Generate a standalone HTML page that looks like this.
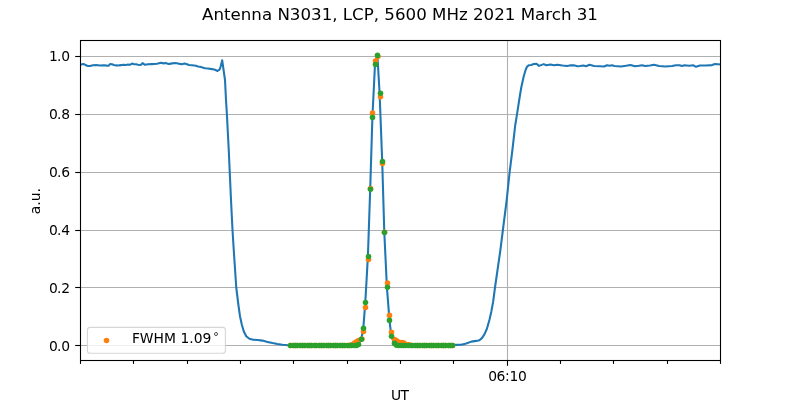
<!DOCTYPE html>
<html><head><meta charset="utf-8"><title>Antenna N3031</title>
<style>html,body{margin:0;padding:0;background:#fff;overflow:hidden}</style></head>
<body>
<svg width="800" height="400" viewBox="0 0 800 400" style="display:block;font-family:'DejaVu Sans','Liberation Sans',sans-serif">
<rect width="800" height="400" fill="#fff"/>
<g stroke="#b0b0b0" stroke-width="1.1" fill="none">
<line x1="80.5" x2="720.5" y1="345.5" y2="345.5"/>
<line x1="80.5" x2="720.5" y1="287.5" y2="287.5"/>
<line x1="80.5" x2="720.5" y1="230.5" y2="230.5"/>
<line x1="80.5" x2="720.5" y1="172.5" y2="172.5"/>
<line x1="80.5" x2="720.5" y1="114.5" y2="114.5"/>
<line x1="80.5" x2="720.5" y1="56.5" y2="56.5"/>
<line x1="507.5" x2="507.5" y1="40.5" y2="360.5"/>
</g>
<g stroke="#000" stroke-width="1.1" fill="none">
<line x1="75.2" x2="80.5" y1="345.5" y2="345.5"/>
<line x1="75.2" x2="80.5" y1="287.5" y2="287.5"/>
<line x1="75.2" x2="80.5" y1="230.5" y2="230.5"/>
<line x1="75.2" x2="80.5" y1="172.5" y2="172.5"/>
<line x1="75.2" x2="80.5" y1="114.5" y2="114.5"/>
<line x1="75.2" x2="80.5" y1="56.5" y2="56.5"/>
<line x1="80.5" x2="80.5" y1="360.5" y2="363.9"/>
<line x1="133.5" x2="133.5" y1="360.5" y2="363.9"/>
<line x1="187.5" x2="187.5" y1="360.5" y2="363.9"/>
<line x1="240.5" x2="240.5" y1="360.5" y2="363.9"/>
<line x1="293.5" x2="293.5" y1="360.5" y2="363.9"/>
<line x1="347.5" x2="347.5" y1="360.5" y2="363.9"/>
<line x1="400.5" x2="400.5" y1="360.5" y2="363.9"/>
<line x1="453.5" x2="453.5" y1="360.5" y2="363.9"/>
<line x1="507.5" x2="507.5" y1="360.5" y2="365.8"/>
<line x1="560.5" x2="560.5" y1="360.5" y2="363.9"/>
<line x1="613.5" x2="613.5" y1="360.5" y2="363.9"/>
<line x1="667.5" x2="667.5" y1="360.5" y2="363.9"/>
<line x1="720.5" x2="720.5" y1="360.5" y2="363.9"/>
</g>
<clipPath id="c"><rect x="80.5" y="40.5" width="640" height="320"/></clipPath>
<g clip-path="url(#c)">
<path d="M80.00,65.00 L82.00,64.20 L83.50,64.00 L85.00,64.60 L86.50,65.60 L88.00,66.00 L90.00,66.00 L93.00,65.20 L96.00,65.00 L100.00,65.50 L104.00,65.30 L107.00,65.60 L108.50,65.70 L110.00,64.10 L112.00,64.30 L114.00,65.00 L116.00,65.40 L118.00,65.50 L121.00,65.10 L124.00,64.80 L126.00,65.00 L128.00,64.60 L130.00,64.80 L132.00,63.60 L134.00,64.30 L136.00,64.20 L138.00,64.80 L140.00,65.00 L141.50,64.50 L142.50,63.00 L144.00,64.30 L145.00,64.80 L148.00,64.30 L152.00,64.10 L157.00,63.80 L159.00,63.30 L161.00,62.80 L162.50,63.00 L163.50,63.50 L165.50,62.90 L167.00,63.40 L168.50,64.00 L171.00,63.60 L174.50,63.00 L177.00,63.30 L180.00,63.90 L182.00,64.20 L184.50,63.50 L187.00,64.20 L189.00,65.00 L192.00,65.30 L196.00,65.80 L198.00,66.40 L200.00,66.80 L202.50,67.50 L205.00,68.20 L208.00,68.50 L212.00,69.10 L215.00,69.80 L217.50,71.00 L219.50,69.70 L220.50,67.00 L222.20,60.30 L223.75,71.25 L225.00,80.00 L226.00,100.00 L226.90,114.40 L228.75,150.00 L229.75,172.40 L231.00,200.00 L232.50,230.00 L233.75,250.00 L236.25,287.50 L237.80,300.00 L238.75,307.50 L240.00,316.25 L241.90,325.00 L243.75,331.25 L246.25,336.25 L249.40,338.75 L253.10,339.75 L257.50,340.00 L262.50,340.60 L267.50,341.90 L272.50,343.10 L277.50,344.00 L282.50,344.75 L288.10,345.20 L290.36,345.40 L292.71,345.40 L295.05,345.40 L297.40,345.40 L299.75,345.40 L302.09,345.40 L304.44,345.40 L306.78,345.40 L309.13,345.40 L311.48,345.40 L313.82,345.40 L316.17,345.40 L318.52,345.40 L320.86,345.40 L323.21,345.40 L325.55,345.40 L327.90,345.40 L330.25,345.40 L332.59,345.40 L334.94,345.40 L337.29,345.40 L339.63,345.40 L341.98,345.40 L344.32,345.40 L346.67,345.40 L349.02,345.40 L351.36,345.40 L353.71,345.40 L356.06,345.40 L358.40,344.40 L361.30,339.20 L363.30,328.20 L365.30,302.40 L367.90,256.40 L370.20,189.10 L372.40,117.30 L375.00,64.40 L377.40,55.30 L379.60,93.20 L382.20,161.40 L384.30,232.40 L386.90,287.10 L389.50,320.30 L391.35,336.20 L394.20,343.30 L396.30,345.10 L398.29,345.40 L400.64,345.40 L402.98,345.40 L405.33,345.40 L407.68,345.40 L410.02,345.40 L412.37,345.40 L414.71,345.40 L417.06,345.40 L419.41,345.40 L421.75,345.40 L424.10,345.40 L426.45,345.40 L428.79,345.40 L431.14,345.40 L433.48,345.40 L435.83,345.40 L438.18,345.40 L440.52,345.40 L442.87,345.40 L445.22,345.40 L447.56,345.40 L449.91,345.40 L452.25,345.40 L455.60,344.90 L461.25,344.75 L466.25,343.50 L471.25,341.60 L476.25,340.90 L479.40,340.25 L481.90,338.10 L484.40,334.40 L486.90,328.75 L489.40,320.00 L491.25,311.90 L493.10,302.00 L495.00,287.50 L500.40,250.00 L502.90,230.00 L506.70,200.00 L509.60,172.50 L512.40,150.00 L515.25,125.00 L517.00,114.40 L519.20,100.00 L521.25,87.50 L523.75,76.25 L525.60,70.00 L526.90,66.90 L528.75,65.25 L531.25,65.00 L533.75,64.00 L536.50,63.75 L539.00,65.90 L543.75,64.10 L546.25,65.25 L550.60,64.50 L553.75,65.25 L557.50,64.75 L562.50,65.50 L566.90,66.00 L570.00,65.40 L573.75,65.25 L577.50,66.25 L580.00,66.00 L583.50,65.50 L586.00,66.20 L589.50,64.80 L594.00,66.00 L600.00,66.20 L604.00,66.50 L607.00,65.20 L609.50,65.80 L612.00,65.30 L614.50,66.00 L621.00,66.50 L626.00,65.80 L630.50,65.00 L635.00,66.30 L639.00,65.80 L642.00,65.20 L645.00,66.00 L650.00,65.50 L654.00,64.80 L659.00,66.00 L665.50,66.50 L672.00,66.00 L676.00,65.20 L679.50,65.20 L682.00,66.00 L684.50,65.20 L689.00,65.70 L693.50,65.30 L696.00,66.80 L700.00,65.50 L706.00,65.50 L712.00,65.10 L715.00,64.00 L720.50,64.50" fill="none" stroke="#1f77b4" stroke-width="2.08" stroke-linejoin="round" stroke-linecap="square"/>
<g fill="#ff7f0e"><circle cx="290.5" cy="345.5" r="2.78"/>
<circle cx="293.5" cy="345.5" r="2.78"/>
<circle cx="295.5" cy="345.5" r="2.78"/>
<circle cx="297.5" cy="345.5" r="2.78"/>
<circle cx="300.5" cy="345.5" r="2.78"/>
<circle cx="302.5" cy="345.5" r="2.78"/>
<circle cx="304.5" cy="345.5" r="2.78"/>
<circle cx="307.5" cy="345.5" r="2.78"/>
<circle cx="309.5" cy="345.5" r="2.78"/>
<circle cx="311.5" cy="345.5" r="2.78"/>
<circle cx="314.5" cy="345.5" r="2.78"/>
<circle cx="316.5" cy="345.5" r="2.78"/>
<circle cx="319.5" cy="345.5" r="2.78"/>
<circle cx="321.5" cy="345.5" r="2.78"/>
<circle cx="323.5" cy="345.5" r="2.78"/>
<circle cx="326.5" cy="345.5" r="2.78"/>
<circle cx="328.5" cy="345.5" r="2.78"/>
<circle cx="330.5" cy="345.5" r="2.78"/>
<circle cx="333.5" cy="345.5" r="2.78"/>
<circle cx="335.5" cy="345.5" r="2.78"/>
<circle cx="337.5" cy="345.5" r="2.78"/>
<circle cx="340.5" cy="345.5" r="2.78"/>
<circle cx="342.5" cy="345.5" r="2.78"/>
<circle cx="344.5" cy="345.5" r="2.78"/>
<circle cx="347.5" cy="345.5" r="2.78"/>
<circle cx="349.5" cy="345.5" r="2.78"/>
<circle cx="351.5" cy="344.9" r="2.78"/>
<circle cx="354.5" cy="343.1" r="2.78"/>
<circle cx="356.5" cy="341.7" r="2.78"/>
<circle cx="358.5" cy="340.6" r="2.78"/>
<circle cx="361.9" cy="339.0" r="2.78"/>
<circle cx="363.5" cy="331.5" r="2.78"/>
<circle cx="365.5" cy="307.5" r="2.78"/>
<circle cx="368.5" cy="259.5" r="2.78"/>
<circle cx="370.5" cy="188.5" r="2.78"/>
<circle cx="372.5" cy="113.1" r="2.78"/>
<circle cx="375.5" cy="61" r="2.78"/>
<circle cx="377.9" cy="56.5" r="2.78"/>
<circle cx="380.5" cy="96.8" r="2.78"/>
<circle cx="382.5" cy="163.5" r="2.78"/>
<circle cx="384.5" cy="232.3" r="2.78"/>
<circle cx="387.5" cy="283" r="2.78"/>
<circle cx="389.5" cy="315.4" r="2.78"/>
<circle cx="391.5" cy="332.2" r="2.78"/>
<circle cx="394.5" cy="339.6" r="2.78"/>
<circle cx="396.5" cy="340.9" r="2.78"/>
<circle cx="398.5" cy="342.0" r="2.78"/>
<circle cx="401.5" cy="342.5" r="2.78"/>
<circle cx="403.5" cy="342.9" r="2.78"/>
<circle cx="405.5" cy="344.2" r="2.78"/>
<circle cx="408.5" cy="344.9" r="2.78"/>
<circle cx="410.5" cy="345.3" r="2.78"/>
<circle cx="412.5" cy="345.5" r="2.78"/>
<circle cx="415.5" cy="345.5" r="2.78"/>
<circle cx="417.5" cy="345.5" r="2.78"/>
<circle cx="419.5" cy="345.5" r="2.78"/>
<circle cx="422.5" cy="345.5" r="2.78"/>
<circle cx="424.5" cy="345.5" r="2.78"/>
<circle cx="426.5" cy="345.5" r="2.78"/>
<circle cx="429.5" cy="345.5" r="2.78"/>
<circle cx="431.5" cy="345.5" r="2.78"/>
<circle cx="433.5" cy="345.5" r="2.78"/>
<circle cx="436.5" cy="345.5" r="2.78"/>
<circle cx="438.5" cy="345.5" r="2.78"/>
<circle cx="441.5" cy="345.5" r="2.78"/>
<circle cx="443.5" cy="345.5" r="2.78"/>
<circle cx="445.5" cy="345.5" r="2.78"/>
<circle cx="448.5" cy="345.5" r="2.78"/>
<circle cx="450.5" cy="345.5" r="2.78"/>
<circle cx="452.5" cy="345.5" r="2.78"/></g>
<g fill="#2ca02c"><circle cx="290.5" cy="345.5" r="2.78"/>
<circle cx="293.5" cy="345.5" r="2.78"/>
<circle cx="295.5" cy="345.5" r="2.78"/>
<circle cx="297.5" cy="345.5" r="2.78"/>
<circle cx="300.5" cy="345.5" r="2.78"/>
<circle cx="302.5" cy="345.5" r="2.78"/>
<circle cx="304.5" cy="345.5" r="2.78"/>
<circle cx="307.5" cy="345.5" r="2.78"/>
<circle cx="309.5" cy="345.5" r="2.78"/>
<circle cx="311.5" cy="345.5" r="2.78"/>
<circle cx="314.5" cy="345.5" r="2.78"/>
<circle cx="316.5" cy="345.5" r="2.78"/>
<circle cx="319.5" cy="345.5" r="2.78"/>
<circle cx="321.5" cy="345.5" r="2.78"/>
<circle cx="323.5" cy="345.5" r="2.78"/>
<circle cx="326.5" cy="345.5" r="2.78"/>
<circle cx="328.5" cy="345.5" r="2.78"/>
<circle cx="330.5" cy="345.5" r="2.78"/>
<circle cx="333.5" cy="345.5" r="2.78"/>
<circle cx="335.5" cy="345.5" r="2.78"/>
<circle cx="337.5" cy="345.5" r="2.78"/>
<circle cx="340.5" cy="345.5" r="2.78"/>
<circle cx="342.5" cy="345.5" r="2.78"/>
<circle cx="344.5" cy="345.5" r="2.78"/>
<circle cx="347.5" cy="345.5" r="2.78"/>
<circle cx="349.5" cy="345.5" r="2.78"/>
<circle cx="351.5" cy="345.5" r="2.78"/>
<circle cx="354.5" cy="345.5" r="2.78"/>
<circle cx="356.5" cy="345.5" r="2.78"/>
<circle cx="358.5" cy="344.5" r="2.78"/>
<circle cx="361.5" cy="339.3" r="2.78"/>
<circle cx="363.5" cy="328.3" r="2.78"/>
<circle cx="365.5" cy="302.5" r="2.78"/>
<circle cx="368.5" cy="256.5" r="2.78"/>
<circle cx="370.5" cy="189.2" r="2.78"/>
<circle cx="372.5" cy="117.4" r="2.78"/>
<circle cx="375.5" cy="64.5" r="2.78"/>
<circle cx="377.5" cy="55.4" r="2.78"/>
<circle cx="380.5" cy="93.3" r="2.78"/>
<circle cx="382.5" cy="161.5" r="2.78"/>
<circle cx="384.5" cy="232.5" r="2.78"/>
<circle cx="387.5" cy="287.2" r="2.78"/>
<circle cx="389.5" cy="320.4" r="2.78"/>
<circle cx="391.5" cy="336.3" r="2.78"/>
<circle cx="394.5" cy="343.4" r="2.78"/>
<circle cx="396.5" cy="345.2" r="2.78"/>
<circle cx="398.5" cy="345.5" r="2.78"/>
<circle cx="401.5" cy="345.5" r="2.78"/>
<circle cx="403.5" cy="345.5" r="2.78"/>
<circle cx="405.5" cy="345.5" r="2.78"/>
<circle cx="408.5" cy="345.5" r="2.78"/>
<circle cx="410.5" cy="345.5" r="2.78"/>
<circle cx="412.5" cy="345.5" r="2.78"/>
<circle cx="415.5" cy="345.5" r="2.78"/>
<circle cx="417.5" cy="345.5" r="2.78"/>
<circle cx="419.5" cy="345.5" r="2.78"/>
<circle cx="422.5" cy="345.5" r="2.78"/>
<circle cx="424.5" cy="345.5" r="2.78"/>
<circle cx="426.5" cy="345.5" r="2.78"/>
<circle cx="429.5" cy="345.5" r="2.78"/>
<circle cx="431.5" cy="345.5" r="2.78"/>
<circle cx="433.5" cy="345.5" r="2.78"/>
<circle cx="436.5" cy="345.5" r="2.78"/>
<circle cx="438.5" cy="345.5" r="2.78"/>
<circle cx="441.5" cy="345.5" r="2.78"/>
<circle cx="443.5" cy="345.5" r="2.78"/>
<circle cx="445.5" cy="345.5" r="2.78"/>
<circle cx="448.5" cy="345.5" r="2.78"/>
<circle cx="450.5" cy="345.5" r="2.78"/>
<circle cx="452.5" cy="345.5" r="2.78"/></g>
</g>
<rect x="80.5" y="40.5" width="640" height="320" fill="none" stroke="#000" stroke-width="1.1"/>
<rect x="87.4" y="327.4" width="138" height="25.8" rx="2.8" ry="2.8" fill="#fff" fill-opacity="0.8" stroke="#ccc" stroke-opacity="0.8" stroke-width="1.1"/>
<circle cx="106.5" cy="340.5" r="2.78" fill="#ff7f0e"/>
<text x="131.9" y="343" font-size="13.89px" fill="#000">FWHM 1.09<tspan x="213.3" y="340.0" font-size="11px">°</tspan></text>
<text x="69.7" y="351" font-size="13.89px" text-anchor="end" letter-spacing="-0.5" dx="0 -0.55 0.55" fill="#000">0.0</text>
<text x="69.7" y="293" font-size="13.89px" text-anchor="end" letter-spacing="-0.5" dx="0 -0.55 0.55" fill="#000">0.2</text>
<text x="69.7" y="235" font-size="13.89px" text-anchor="end" letter-spacing="-0.5" dx="0 -0.55 0.55" fill="#000">0.4</text>
<text x="69.7" y="177" font-size="13.89px" text-anchor="end" letter-spacing="-0.5" dx="0 -0.55 0.55" fill="#000">0.6</text>
<text x="69.7" y="119" font-size="13.89px" text-anchor="end" letter-spacing="-0.5" dx="0 -0.55 0.55" fill="#000">0.8</text>
<text x="69.7" y="61" font-size="13.89px" text-anchor="end" letter-spacing="-0.5" dx="0 -0.55 0.55" fill="#000">1.0</text>
<text x="507.25" y="381" font-size="13.89px" text-anchor="middle" letter-spacing="-0.35" fill="#000">06:10</text>
<text x="399.6" y="400" font-size="13.89px" text-anchor="middle" letter-spacing="-0.7" fill="#000">UT</text>
<text transform="translate(39.7,201.2) rotate(-90)" font-size="13.89px" text-anchor="middle" fill="#000">a.u.</text>
<text x="400" y="20" font-size="16.67px" text-anchor="middle" fill="#000">Antenna N3031, LCP, 5600 MHz 2021 March 31</text>
</svg>
</body></html>
